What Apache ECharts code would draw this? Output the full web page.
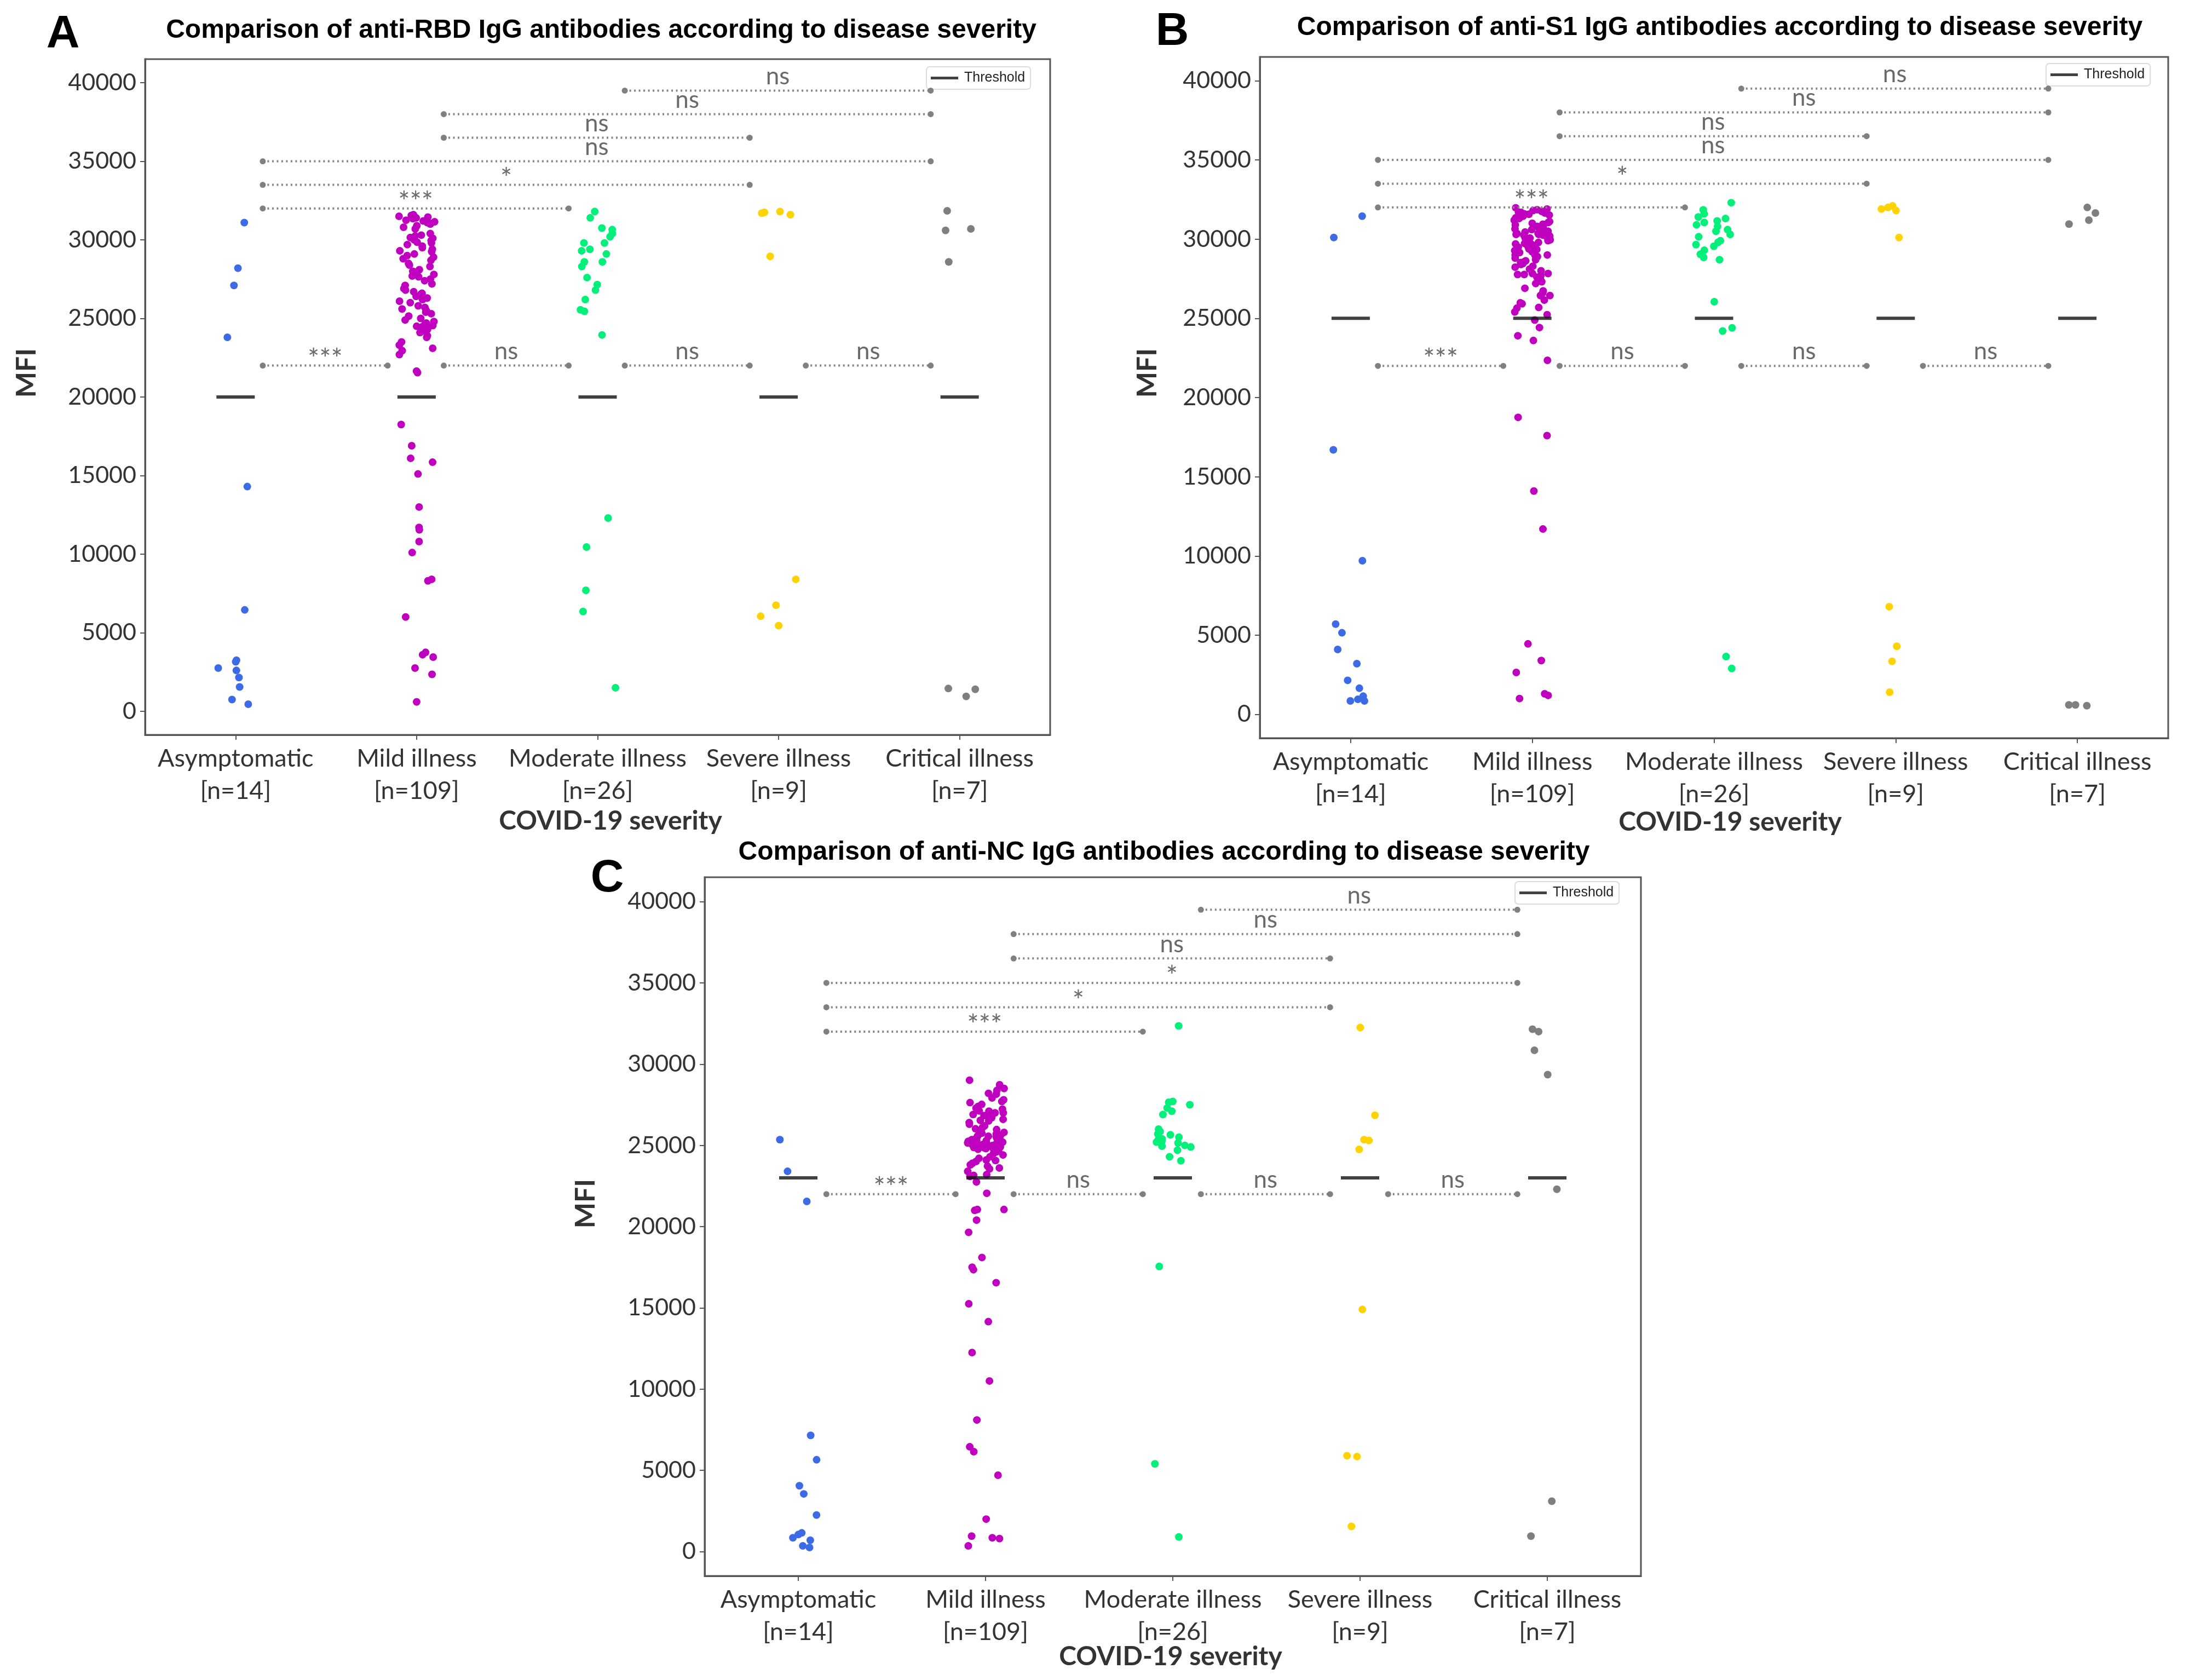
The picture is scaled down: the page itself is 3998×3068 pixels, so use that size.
<!DOCTYPE html>
<html lang="en">
<head>
    <meta charset="utf-8">
    <title>IgG antibodies by COVID-19 severity</title>
    <script src="https://cdn.jsdelivr.net/npm/echarts@6/dist/echarts.min.js"></script>
    <style>
        html, body { margin: 0; padding: 0; background: #fff; }
        #main { width: 3998px; height: 3068px; }
    </style>
</head>
<body>
<div id="main"></div>
<script type="text/javascript">
    // categories and tick labels
    const categories = ["Asymptomatic", "Mild illness", "Moderate illness", "Severe illness", "Critical illness"];
    const groupSizes = ["[n=14]", "[n=109]", "[n=26]", "[n=9]", "[n=7]"];
    const yTicks = [0, 5000, 10000, 15000, 20000, 25000, 30000, 35000, 40000];

    // threshold per panel (A: RBD, B: S1, C: NC)
    const thresholds = [20000, 25000, 23000];

    // pairwise comparisons: groups, bracket height, labels per panel
    const pairs = [[0, 1], [1, 2], [2, 3], [3, 4], [0, 2], [0, 3], [0, 4], [1, 3], [1, 4], [2, 4]];
    const pairHeights = [22000, 22000, 22000, 22000, 32000, 33500, 35000, 36500, 38000, 39500];
    const sigA = ["***", "ns", "ns", "ns", "***", "*", "ns", "ns", "ns", "ns"];
    const sigB = ["***", "ns", "ns", "ns", "***", "*", "ns", "ns", "ns", "ns"];
    const sigC = ["***", "ns", "ns", "ns", "***", "*", "*", "ns", "ns", "ns"];

    // ---- panel A : anti-RBD ----
    const asyA = [31100, 28200, 27100, 23800, 14300, 6450, 3150, 3250, 2600, 2750, 2150, 1550, 750, 450];
    const mildA = [18250, 16900, 16100, 15850, 15100, 13000, 11700, 11550, 10800, 10100, 8400, 8300, 6000, 3750, 3600, 3450, 2750, 2350, 600,
        21550, 21650, 22950, 23500,
        31600, 30400, 28100, 26900, 25800, 24700, 31500, 30300, 29300, 28000, 26800, 25700, 24600, 31450, 30250, 29100,
        27900, 26700, 25600, 24500, 31400, 30100, 29000, 27800, 26600, 25400, 24450, 31350, 30000, 28800, 27700, 26500,
        25300, 24400, 31250, 29950, 28700, 27500, 26400, 25150, 24300, 31200, 29850, 28500, 27400, 26300, 25000, 24200,
        31100, 29800, 28400, 27200, 26200, 24900, 24100, 31000, 29700, 28300, 27100, 26100, 24800, 23900, 30900, 29600,
        28900, 26000, 25500, 23800, 30800, 29500, 27950, 26550, 23300, 30700, 29400, 23100, 22700, 30150, 31550, 31050,
        31150, 29250, 27650, 24550];
    const modA = [31800, 31400, 30650, 30750, 30400, 29800, 29800, 30200, 29300, 29400, 29100, 28600, 28600, 28300, 27600, 27150, 26800, 26200,
        25550, 25450, 23950, 12300, 10450, 7700, 6350, 1500];
    const sevA = [31600, 31800, 31700, 31750, 28950, 8400, 6750, 6050, 5450];
    const criA = [31850, 30600, 30700, 28600, 1450, 950, 1400];

    // ---- panel B : anti-S1 ----
    const asyB = [31450, 30100, 16700, 9700, 5700, 5150, 4100, 3200, 2150, 1650, 1150, 950, 850, 850];
    const mildB = [18750, 17600, 14100, 11700, 4450, 3400, 2650, 1300, 1200, 1000,
        22350, 23900, 23600, 25230, 24890, 24420, 26150, 26440, 26440, 25920, 25690, 25980, 25640, 27600, 27310, 26730,
        28520, 28630, 28580, 28230, 28460, 28290, 28110, 27830, 27710, 27770, 27830, 27770,
        29670, 29560, 29610, 29790, 29440, 29730, 29150, 28980, 29270, 28980, 29380,
        30820, 30940, 30590, 30300, 30250, 31050, 30650, 30420, 30360, 30300, 30070, 30070, 30250,
        31750, 31980, 31690, 31520, 31570, 31400, 31110, 31860,
        31900, 31800, 31700, 31650, 31600, 31450, 31350, 31300, 31200, 31000, 30900, 30800, 30700, 30600, 30500, 30450,
        30350, 30200, 30100, 30000, 29950, 29900, 29850, 29700, 29500, 29350, 29200, 29100, 29000, 28900, 28800, 28700,
        28400, 28000, 27500, 27200, 26900, 26600, 25400];
    const modB = [32300, 31850, 31050, 30900, 31400, 31150, 30600, 30500, 30150, 29800, 29300, 29550, 29050, 28850, 28700, 26050, 24400, 24200,
        3650, 2900, 31600, 30800, 30300, 29900, 31300, 29650];
    const sevB = [32000, 32100, 31800, 31900, 30100, 6800, 4300, 3350, 1400];
    const criB = [32000, 31650, 31200, 30950, 600, 550, 600];

    // ---- panel C : anti-NC ----
    const asyC = [25350, 23400, 21550, 7150, 5650, 4050, 3550, 2250, 1150, 1050, 850, 700, 350, 250];
    const mildC = [22750, 22050, 21050, 21000, 21050, 20400, 19650, 18100, 17350, 17500, 16550, 15250, 14150, 12250, 10500, 8100, 6450, 6150,
        4700, 2000, 800, 950, 350, 850,
        29010, 28730, 28380, 28150, 27920, 27630, 27520, 27290, 27120, 27230, 27000, 26830, 26830, 26540, 26020, 26200,
        25970, 25620, 25560, 25220, 25280, 25050, 25450, 25560, 25450, 25050, 24870, 24870, 24760, 24760, 24870, 24410,
        24010, 24070, 23720, 23610, 23550, 23090, 23150,
        28500, 28200, 27800, 27700, 27400, 27100, 26900, 26700, 26600, 26400, 26300, 26100, 25900, 25800, 25750, 25700,
        25650, 25600, 25500, 25400, 25350, 25300, 25250, 25200, 25150, 25100, 25000, 24950, 24900, 24800, 24700, 24650,
        24600, 24500, 24300, 24200, 24100, 23900, 23800, 23400, 25550, 25050, 24850, 26500, 27000, 23200];
    const modC = [32350, 27500, 27700, 27650, 27100, 26900, 25350, 25650, 25700, 25850, 25200, 25400, 25250, 25150, 24900, 24950, 24300, 24050,
        17550, 5400, 900, 25000, 24700, 25500, 26000, 27300];
    const sevC = [32250, 26850, 25300, 25350, 24750, 14900, 5900, 5850, 1550];
    const criC = [32150, 32000, 30850, 29350, 22300, 3100, 950];

    const groupColors = ["#3d6be6", "#bf00bf", "#00f07a", "#ffd200", "#7f7f7f"];
    const tickFont = "Lato";
    const axisGray = "#555";

    const panels = [
        {letter: "A", title: "Comparison of anti-RBD IgG antibodies according to disease severity",
         groups: [asyA, mildA, modA, sevA, criA], sig: sigA,
         grid: {left: 265, top: 108, width: 1653, height: 1234},
         legend: {left: 1692, top: 122},
         letterPos: [115, 64], titlePos: [1098, 56], mfiPos: [49, 681], xNamePos: [1115, 1500]},
        {letter: "B", title: "Comparison of anti-S1 IgG antibodies according to disease severity",
         groups: [asyB, mildB, modB, sevB, criB], sig: sigB,
         grid: {left: 2301, top: 104, width: 1659, height: 1244},
         legend: {left: 3737, top: 116},
         letterPos: [2141, 59], titlePos: [3141, 51], mfiPos: [2096, 681], xNamePos: [3160, 1502]},
        {letter: "C", title: "Comparison of anti-NC IgG antibodies according to disease severity",
         groups: [asyC, mildC, modC, sevC, criC], sig: sigC,
         grid: {left: 1287, top: 1602, width: 1710, height: 1276},
         legend: {left: 2767, top: 1610},
         letterPos: [1109, 1605], titlePos: [2126, 1557], mfiPos: [1070, 2198], xNamePos: [2138, 3026]}
    ];

    // sideways spread of strip points, deterministic hash of the point index
    function jitter(k, g) {
        const h = Math.sin((k + 1) * 12.9898 + (g + 1) * 78.233) * 43758.5453;
        return ((h - Math.floor(h)) - 0.5) * 0.2;
    }

    const grids = [], xAxes = [], yAxes = [], series = [], legends = [], graphics = [];

    panels.forEach(function (p, pi) {
        grids.push(Object.assign({show: true, borderColor: axisGray, borderWidth: 3, backgroundColor: "#fff",
            outerBoundsMode: "none"}, p.grid));

        // visible category axis
        xAxes.push({
            type: "category", gridIndex: pi, data: categories, boundaryGap: true,
            axisLine: {show: true, onZero: false, lineStyle: {color: axisGray, width: 3}},
            axisTick: {show: true, alignWithLabel: true, length: 9, lineStyle: {color: axisGray, width: 2}},
            axisLabel: {
                interval: 0, margin: 14, fontSize: 45, lineHeight: 59, color: "#333", fontFamily: tickFont,
                formatter: function (v, i) { return v + "\n" + groupSizes[i]; }
            },
            splitLine: {show: false}
        });
        // hidden numeric axis for strip positions
        xAxes.push({type: "value", gridIndex: pi, min: -0.5, max: 4.5, show: false,
            axisLine: {show: false, onZero: false}, splitLine: {show: false}});

        yAxes.push({
            type: "value", gridIndex: pi, min: -1500, max: 41500,
            axisLine: {show: true, onZero: false, lineStyle: {color: axisGray, width: 3}},
            axisTick: {show: true, length: 9, lineStyle: {color: axisGray, width: 2}, customValues: yTicks},
            axisLabel: {margin: 16, fontSize: 43, color: "#333", fontFamily: tickFont, customValues: yTicks,
                formatter: function (v) { return String(v); }},
            splitLine: {show: false}
        });

        const xi = pi * 2 + 1;

        p.groups.forEach(function (vals, g) {
            series.push({
                type: "scatter", name: categories[g], xAxisIndex: xi, yAxisIndex: pi,
                symbol: "circle", symbolSize: 14,
                itemStyle: {color: groupColors[g], opacity: 1},
                data: vals.map(function (v, k) { return [g + jitter(k, g + pi * 5), v]; }),
                z: 3
            });
        });

        series.push({
            type: "scatter", name: "Threshold", xAxisIndex: xi, yAxisIndex: pi,
            symbol: "rect", symbolSize: [70, 6],
            itemStyle: {color: "#111"},
            data: categories.map(function (c, g) { return [g, thresholds[pi]]; }),
            z: 4
        });

        const sig = p.sig;
        series.push({
            type: "custom", name: "comparisons", xAxisIndex: xi, yAxisIndex: pi,
            encode: {x: [0, 1], y: 2}, clip: false, z: 5, silent: true,
            data: pairs.map(function (pr, k) { return [pr[0] + 0.15, pr[1] - 0.16, pairHeights[k]]; }),
            renderItem: function (params, api) {
                const a = api.coord([api.value(0), api.value(2)]);
                const b = api.coord([api.value(1), api.value(2)]);
                const txt = sig[params.dataIndex];
                const star = txt.indexOf("*") >= 0;
                return {
                    type: "group",
                    children: [
                        {type: "line", shape: {x1: a[0], y1: a[1], x2: b[0], y2: b[1]},
                         style: {stroke: "#858585", lineWidth: 4, lineDash: [3, 5.5]}},
                        {type: "circle", shape: {cx: a[0], cy: a[1], r: 5.5}, style: {fill: "#808080"}},
                        {type: "circle", shape: {cx: b[0], cy: b[1], r: 5.5}, style: {fill: "#808080"}},
                        {type: "text", style: {
                            text: txt, x: (a[0] + b[0]) / 2, y: a[1] + (star ? 14 : -4),
                            align: "center", verticalAlign: "bottom",
                            fill: "#6a6a6a", fontSize: star ? 50 : 44, fontFamily: tickFont
                        }}
                    ]
                };
            }
        });

        legends.push({
            data: ["Threshold"], left: p.legend.left, top: p.legend.top,
            orient: "horizontal", icon: "rect", itemWidth: 50, itemHeight: 5,
            padding: [8, 10, 8, 8], itemGap: 0,
            backgroundColor: "#fff", borderColor: "#dcdcdc", borderWidth: 2, borderRadius: 6,
            textStyle: {fontSize: 25, color: "#222", fontFamily: "Liberation Sans", padding: [0, 0, 0, 6]},
            selectedMode: false
        });

        graphics.push({type: "text", x: p.letterPos[0], y: p.letterPos[1],
            style: {text: p.letter, align: "center", verticalAlign: "middle", fill: "#000",
                font: "bold 84px 'Liberation Sans'"}});
        graphics.push({type: "text", x: p.titlePos[0], y: p.titlePos[1],
            style: {text: p.title, align: "center", verticalAlign: "middle", fill: "#000",
                font: "bold 48px 'Liberation Sans'"}});
        graphics.push({type: "text", x: p.mfiPos[0], y: p.mfiPos[1], rotation: Math.PI / 2,
            style: {text: "MFI", align: "center", verticalAlign: "middle", fill: "#333",
                font: "bold 50px Lato"}});
        graphics.push({type: "text", x: p.xNamePos[0], y: p.xNamePos[1],
            style: {text: "COVID-19 severity", align: "center", verticalAlign: "middle", fill: "#333",
                font: "bold 48px Lato"}});
    });

    const myChart = echarts.init(document.getElementById("main"), null, {renderer: "canvas"});
    myChart.setOption({
        backgroundColor: "#fff",
        animation: false,
        grid: grids,
        xAxis: xAxes,
        yAxis: yAxes,
        legend: legends,
        series: series,
        graphic: graphics
    });
</script>
</body>
</html>
